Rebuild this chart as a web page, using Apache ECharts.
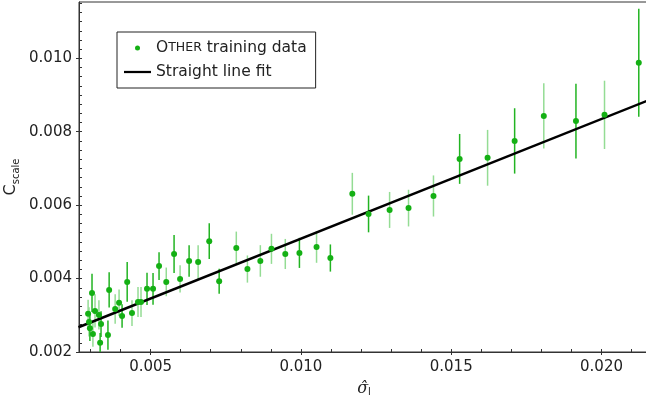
<!DOCTYPE html>
<html>
<head>
<meta charset="utf-8">
<script src="https://cdn.jsdelivr.net/npm/echarts@6/dist/echarts.min.js"></script>
<style>
html,body{margin:0;padding:0;background:#fff;}
#chart{width:646px;height:404px;}
</style>
</head>
<body>
<div id="chart"></div>
<script>
// ---- data ----
const sigmaHat = [0.00292,0.00295,0.00298,0.00305,0.00308,0.00315,0.00328,0.00332,0.00335,0.00358,
  0.00362,0.00382,0.00395,0.00405,0.00422,0.00438,0.00458,0.00468,0.00488,0.00508,
  0.00528,0.00552,0.00578,0.00598,0.00628,0.00658,0.00695,0.00728,0.00785,0.00822,
  0.00865,0.00902,0.00948,0.00995,0.01052,0.01098,0.01171,0.01225,0.01295,0.01358,
  0.01441,0.01528,0.01621,0.01711,0.01808,0.01915,0.02010,0.02124];
const cScale = [0.00304,0.00282,0.00265,0.00361,0.00249,0.00312,0.00301,0.00225,0.00276,0.00246,
  0.00369,0.00317,0.00334,0.00298,0.00391,0.00306,0.00336,0.00336,0.00372,0.00372,
  0.00434,0.00391,0.00467,0.00399,0.00448,0.00445,0.00502,0.00393,0.00483,0.00426,
  0.00448,0.00481,0.00467,0.00470,0.00486,0.00456,0.00631,0.00576,0.00587,0.00592,
  0.00625,0.00726,0.00729,0.00775,0.00843,0.00829,0.00846,0.00988];
const cErr = [0.00038,0.00040,0.00035,0.00052,0.00035,0.00045,0.00040,0.00027,0.00035,0.00040,
  0.00048,0.00040,0.00036,0.00032,0.00054,0.00035,0.00041,0.00041,0.00044,0.00043,
  0.00038,0.00039,0.00052,0.00037,0.00043,0.00046,0.00049,0.00034,0.00045,0.00037,
  0.00043,0.00041,0.00041,0.00041,0.00043,0.00037,0.00057,0.00050,0.00049,0.00050,
  0.00056,0.00068,0.00076,0.00089,0.00089,0.00102,0.00093,0.00147];
const errDark = [0,0,1,1,0,0,0,1,1,1, 1,0,0,1,1,0,0,0,1,1, 1,0,1,0,1,0,1,1,0,0, 0,0,0,1,0,1,0,1,0,0, 0,1,0,1,0,1,0,1];
const fitX = [0.0026, 0.0216];
const fitY = [0.002675, 0.008869];
const xMajorTicks = [0.005, 0.010, 0.015, 0.020];
const xMinorTicks = [0.003,0.004,0.005,0.006,0.007,0.008,0.009,0.010,0.011,0.012,0.013,0.014,0.015,0.016,0.017,0.018,0.019,0.020,0.021];
const yMajorTicks = [0.002, 0.004, 0.006, 0.008, 0.010];
const yMinorTicks = [];
for (let i = 0; i <= 38; i++) yMinorTicks.push(+(0.002 + i * 0.00025).toFixed(5));

const FONT = 'DejaVu Sans';
const GREEN = '#14b014';
const xMin = 0.002617, xMax = 0.02158, yMin = 0.002, yMax = 0.011534;

const scatterData = sigmaHat.map((x, i) => [x, cScale[i]]);
const errData = sigmaHat.map((x, i) => [x, cScale[i] - cErr[i], cScale[i] + cErr[i], errDark[i]]);
const fitData = fitX.map((x, i) => [x, fitY[i]]);

const chart = echarts.init(document.getElementById('chart'), null, {renderer: 'canvas'});
const labelFmt = v => v.toFixed(3);
const option = {
  animation: false,
  backgroundColor: '#fff',
  grid: {left: 79, top: 2, right: -3, bottom: 52, outerBoundsMode: 'none', containLabel: false,
         show: true, borderColor: '#333', borderWidth: 1, backgroundColor: 'transparent'},
  xAxis: [
    {type: 'value', min: xMin, max: xMax, position: 'bottom',
     axisLine: {show: true, lineStyle: {color: '#333', width: 1}},
     axisTick: {show: true, inside: false, length: 3, customValues: xMajorTicks, lineStyle: {color: '#333'}},
     axisLabel: {show: true, customValues: xMajorTicks, formatter: labelFmt, margin: 8, fontFamily: FONT, fontSize: 15, color: '#222'},
     splitLine: {show: false},
     name: '{s|σ̂}{sub|l}', nameLocation: 'middle', nameGap: 29, nameMoveOverlap: false,
     nameTextStyle: {rich: {s: {fontFamily: 'DejaVu Serif', fontStyle: 'italic', fontSize: 16, color: '#222'}, sub: {fontFamily: FONT, fontSize: 10, color: '#222', verticalAlign: 'bottom', lineHeight: 10}}}
    },
    {type: 'value', min: xMin, max: xMax, position: 'bottom', gridIndex: 0,
     axisLine: {show: false},
     axisTick: {show: true, inside: true, length: 3, customValues: xMinorTicks, lineStyle: {color: '#333'}},
     axisLabel: {show: false}, splitLine: {show: false}
    }
  ],
  yAxis: [
    {type: 'value', min: yMin, max: yMax, position: 'left',
     axisLine: {show: true, lineStyle: {color: '#333', width: 1}},
     axisTick: {show: true, inside: false, length: 3, customValues: yMajorTicks, lineStyle: {color: '#333'}},
     axisLabel: {show: true, customValues: yMajorTicks, formatter: labelFmt, margin: 7, fontFamily: FONT, fontSize: 15, color: '#222'},
     splitLine: {show: false},
     name: '{c|C}{s|scale}', nameLocation: 'middle', nameRotate: 90, nameGap: 58, nameMoveOverlap: false,
     nameTextStyle: {rich: {c: {fontFamily: FONT, fontSize: 16, color: '#222', lineHeight: 20}, s: {fontFamily: FONT, fontSize: 10, color: '#222', verticalAlign: 'bottom', lineHeight: 10}}}
    },
    {type: 'value', min: yMin, max: yMax, position: 'left', gridIndex: 0,
     axisLine: {show: false},
     axisTick: {show: true, inside: true, length: 3, customValues: yMinorTicks, lineStyle: {color: '#333'}},
     axisLabel: {show: false}, splitLine: {show: false}
    }
  ],
  legend: {
    show: true, orient: 'vertical', left: 117, top: 32,
    padding: [7, 9, 7, 7], itemGap: 6, itemWidth: 27, itemHeight: 5,
    borderColor: '#222', borderWidth: 1, borderRadius: 0, backgroundColor: '#fff',
    textStyle: {fontFamily: FONT, fontSize: 15.5, color: '#222', lineHeight: 18,
      rich: {b: {fontFamily: FONT, fontSize: 15.5, color: '#222'}, s: {fontFamily: FONT, fontSize: 12.5, color: '#222'}}},
    formatter: name => name === 'OTHER training data' ? '{b|O}{s|THER}{b| training data}' : name,
    data: [
      {name: 'OTHER training data', icon: 'circle', itemStyle: {color: GREEN}},
      {name: 'Straight line fit', icon: 'path://M0,0 L24,0 L24,2 L0,2 Z', itemStyle: {color: '#000'}}
    ]
  },
  series: [
    {type: 'custom', name: 'errbars', xAxisIndex: 0, yAxisIndex: 0, clip: true, z: 2,
     data: errData,
     renderItem: (params, api) => {
       const p1 = api.coord([api.value(0), api.value(1)]);
       const p2 = api.coord([api.value(0), api.value(2)]);
       const dark = api.value(3) === 1;
       return {type: 'line', shape: {x1: p1[0], y1: p1[1], x2: p2[0], y2: p2[1]},
         style: {stroke: dark ? '#22b422' : '#94dc94', lineWidth: 1.5}};
     },
     encode: {x: 0, y: [1, 2]}
    },
    {type: 'line', name: 'Straight line fit', data: fitData, xAxisIndex: 0, yAxisIndex: 0,
     showSymbol: false, symbol: 'none', lineStyle: {color: '#000', width: 2.5}, itemStyle: {color: '#000'}, z: 3, clip: true},
    {type: 'scatter', name: 'OTHER training data', data: scatterData, xAxisIndex: 0, yAxisIndex: 0,
     symbol: 'circle', symbolSize: 6, itemStyle: {color: GREEN, opacity: 1}, z: 4}
  ]
};
chart.setOption(option);
</script>
</body>
</html>
